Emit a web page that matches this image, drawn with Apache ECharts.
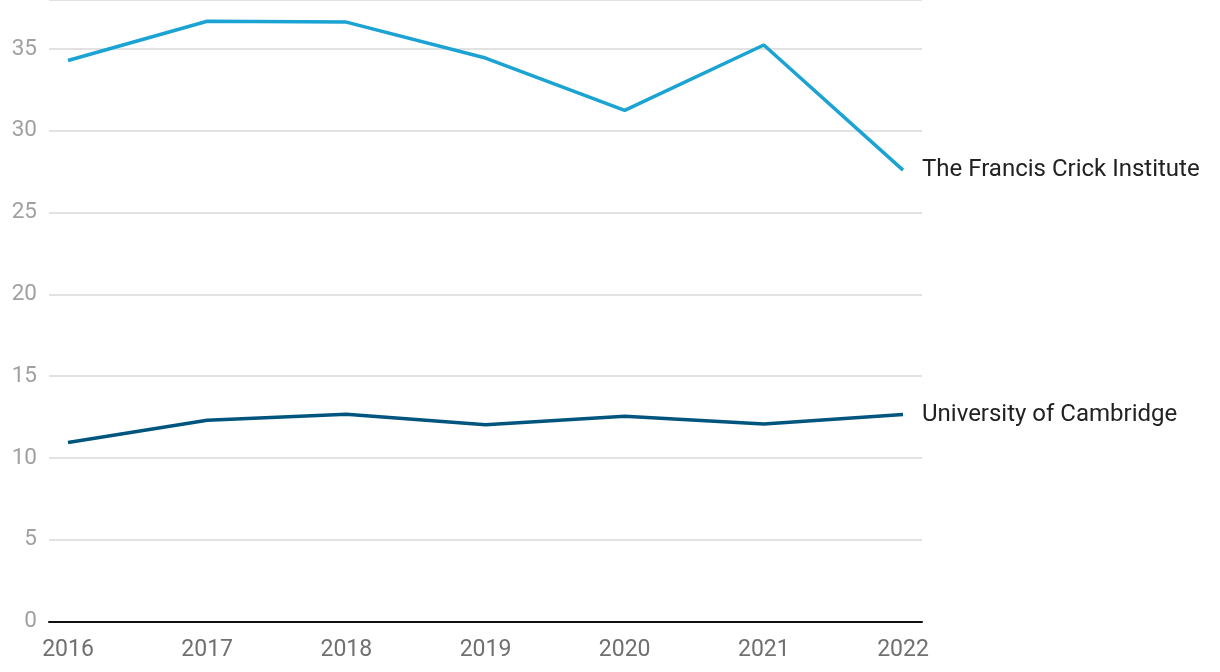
<!DOCTYPE html>
<html><head><meta charset="utf-8">
<script src="https://cdn.jsdelivr.net/npm/echarts@6/dist/echarts.min.js"></script>
<style>html,body{margin:0;padding:0;background:#fff}#c{width:1220px;height:672px}</style>
</head><body><div id="c"></div>
<script>
const years = ['2016','2017','2018','2019','2020','2021','2022'];
const crick = [34.3, 36.7, 36.65, 34.45, 31.25, 35.25, 27.6];
const cambridge = [10.95, 12.3, 12.67, 12.03, 12.55, 12.08, 12.65];
const yTicks = [0, 5, 10, 15, 20, 25, 30, 35];

const chart = echarts.init(document.getElementById('c'));
const font = 'Roboto';
chart.setOption({
  animation: false,
  grid: [
    {left: 49, right: 298, top: 0, bottom: 50.5, containLabel: false},
    {left: 68, right: 317, top: 0, bottom: 50.5, containLabel: false}
  ],
  xAxis: [
    {gridIndex: 0, type: 'category', data: years, boundaryGap: false,
     axisLine: {show: true, lineStyle: {color: '#111', width: 2}},
     axisTick: {show: false}, axisLabel: {show: false}, splitLine: {show: false}},
    {gridIndex: 1, type: 'category', data: years, boundaryGap: false,
     axisLine: {show: false}, axisTick: {show: false},
     axisLabel: {show: true, color: '#707070', fontFamily: font, fontSize: 23, margin: 17},
     splitLine: {show: false}}
  ],
  yAxis: [
    {gridIndex: 0, type: 'value', min: 0, max: 38, interval: 5,
     axisLine: {show: false}, axisTick: {show: false},
     axisLabel: {color: '#a0a0a0', fontFamily: font, fontSize: 22.5, margin: 12,
       formatter: v => yTicks.includes(v) ? String(v) : ''},
     splitLine: {show: true, lineStyle: {color: '#e2e2e2', width: 2}}},
    {gridIndex: 1, type: 'value', min: 0, max: 38, interval: 5, show: false}
  ],
  series: [
    {type: 'line', name: 'The Francis Crick Institute', xAxisIndex: 1, yAxisIndex: 1,
     data: crick, symbol: 'none', lineStyle: {color: '#1aa3d3', width: 3.5},
     itemStyle: {color: '#1aa3d3'},
     endLabel: {show: true, formatter: '{a}', color: '#222', fontFamily: font, fontSize: 24, distance: 19}},
    {type: 'line', name: 'University of Cambridge', xAxisIndex: 1, yAxisIndex: 1,
     data: cambridge, symbol: 'none', lineStyle: {color: '#00557f', width: 3.5},
     itemStyle: {color: '#00557f'},
     endLabel: {show: true, formatter: '{a}', color: '#222', fontFamily: font, fontSize: 24, distance: 19}}
  ]
});
</script></body></html>
